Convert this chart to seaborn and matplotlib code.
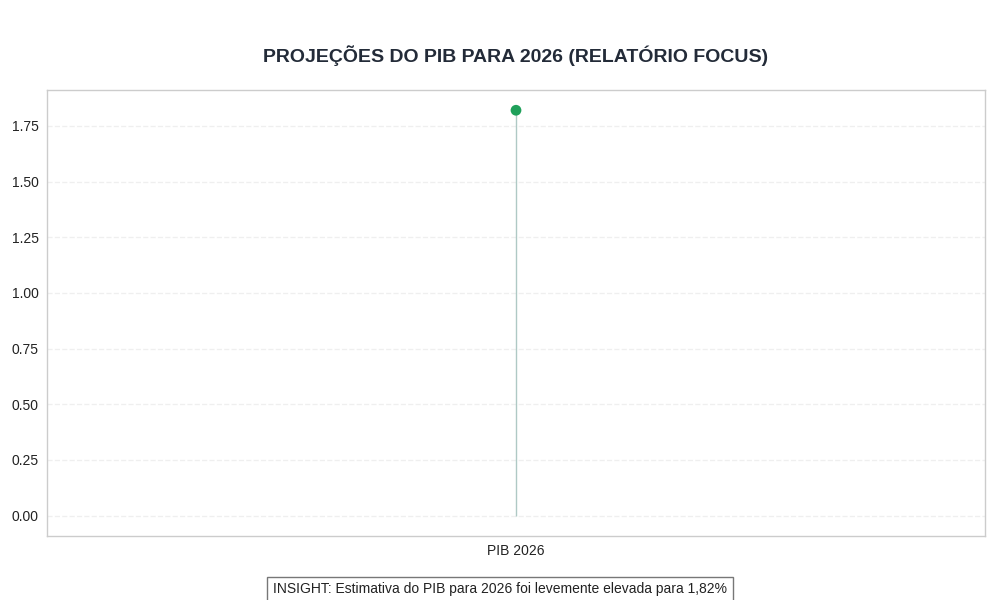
import matplotlib
matplotlib.use("Agg")
import matplotlib.pyplot as plt
import seaborn as sns
import pandas as pd

categories = ["PIB 2026"]
values = [1.82]
title = "PROJEÇÕES DO PIB PARA 2026 (RELATÓRIO FOCUS)"
insight = "INSIGHT: Estimativa do PIB para 2026 foi levemente elevada para 1,82%"

sns.set_theme(style="whitegrid")
plt.rcParams["font.family"] = ["Liberation Sans", "DejaVu Sans"]

df = pd.DataFrame({"indicador": categories, "valor": values})

fig, ax = plt.subplots(figsize=(10, 6), dpi=100)
fig.subplots_adjust(left=0.047, right=0.985, top=0.85, bottom=0.107)

sns.scatterplot(data=df, x="indicador", y="valor", ax=ax, s=60, color="#1fa05a",
                edgecolor="none", zorder=3)
ax.vlines(x=range(len(df)), ymin=0, ymax=df["valor"], color="#a6c4bf", alpha=0.9,
          linewidth=1, zorder=2)

vmax = max(values)
ax.set_ylim(-0.05 * vmax, vmax * 1.05)
ax.set_yticks([0, 0.25, 0.5, 0.75, 1.0, 1.25, 1.5, 1.75])
ax.set_xlim(-0.5, 0.5)
ax.set_xlabel("")
ax.set_ylabel("")
ax.set_title(title, fontsize=14, fontweight="bold", color="#232b38", pad=20)
ax.grid(axis="x", visible=False)
ax.grid(axis="y", linestyle="--", alpha=0.3, color="#cccccc")
for sp in ax.spines.values():
    sp.set_color("#cccccc")
    sp.set_linewidth(1)
ax.tick_params(axis="both", labelsize=10, colors="#222222", length=0, pad=6)

fig.text(0.5, 0.018, insight, ha="center", va="center", fontsize=10, color="#222222",
         bbox=dict(boxstyle="square,pad=0.4", facecolor="white", edgecolor="#777777"))

fig.savefig("out.png", dpi=100)
